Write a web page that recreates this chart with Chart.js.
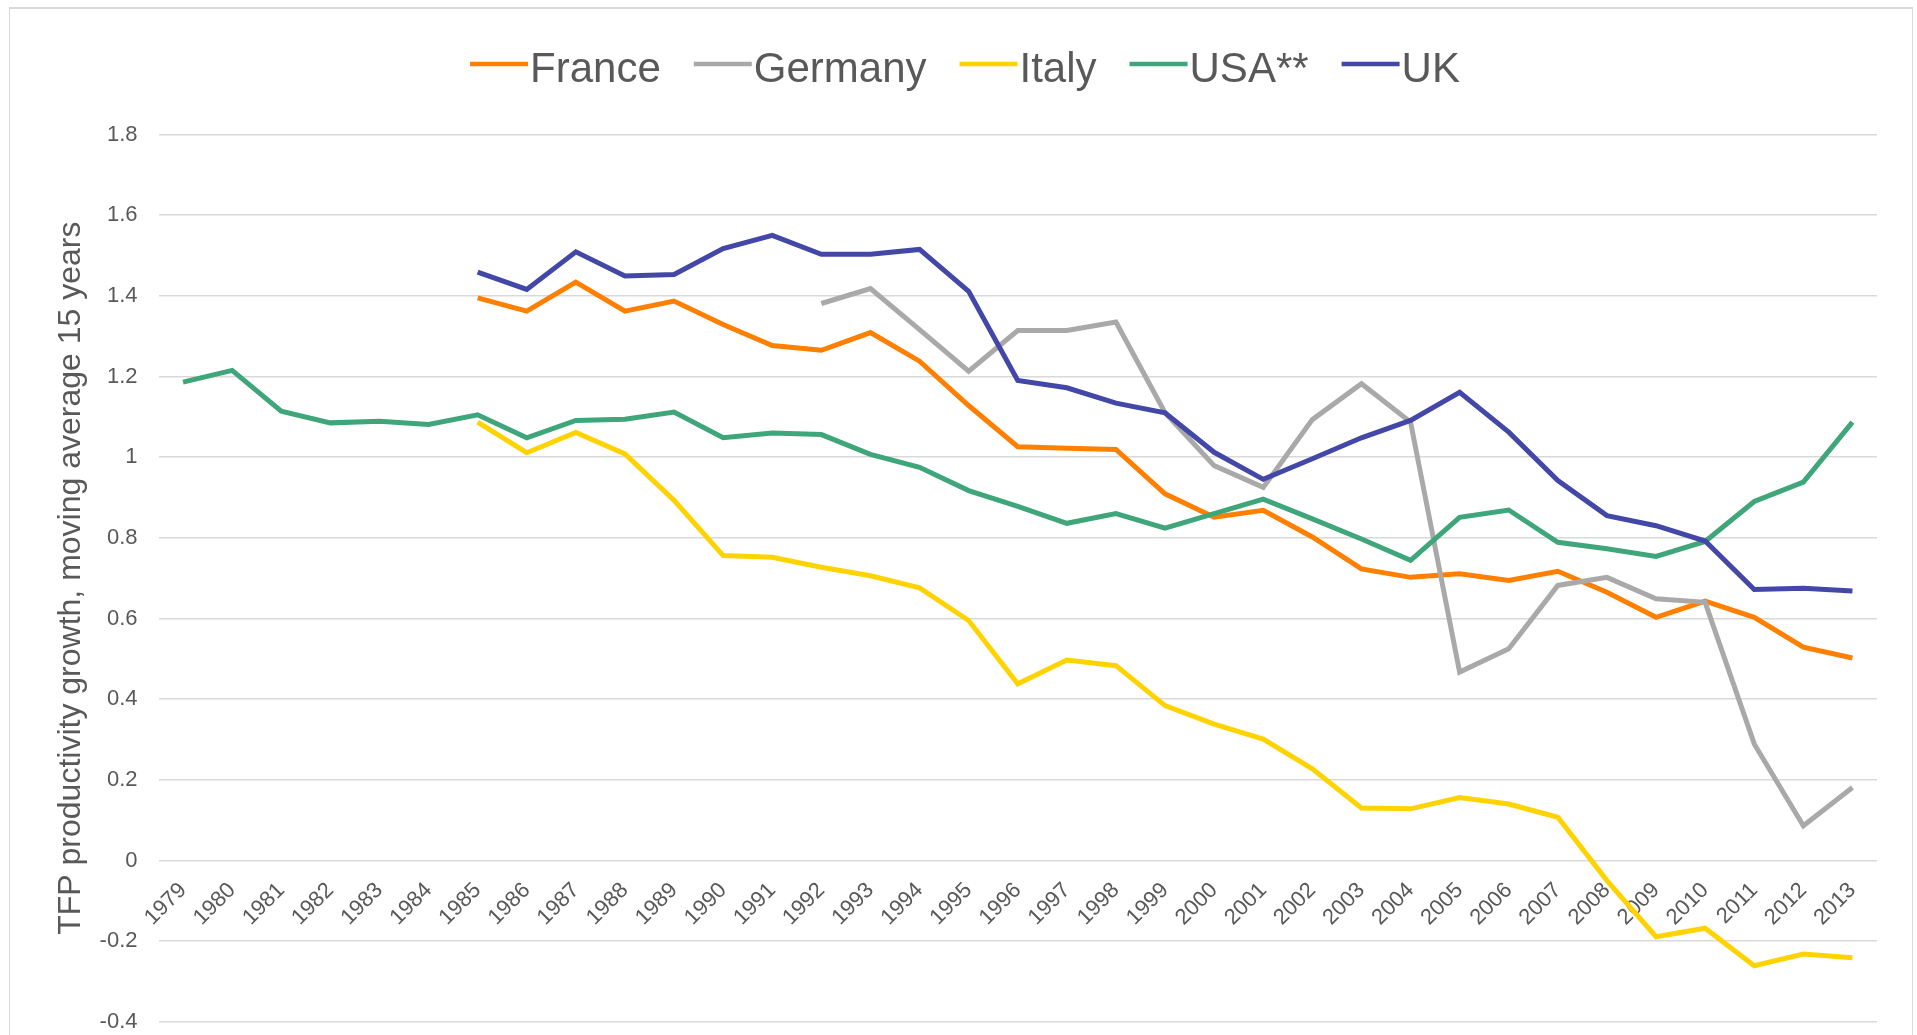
<!DOCTYPE html>
<html>
<head>
<meta charset="utf-8">
<title>TFP productivity growth</title>
<script src="https://cdn.jsdelivr.net/npm/chart.js@4.4.1/dist/chart.umd.min.js"></script>
<style>
  html, body { margin: 0; padding: 0; background: #fff; overflow: hidden; }
  #wrap { position: relative; width: 1917px; height: 1035px; overflow: hidden; }
  #frame { position: absolute; left: 9px; top: 7px; width: 1902px; height: 1100px; border: 1px solid #d9d9d9; border-top-width: 2px; pointer-events: none; }
  canvas { position: absolute; left: 0; top: 0; }
</style>
</head>
<body>
<div id="wrap">
  <!-- a bit taller than the window: the plot runs on below the visible edge, as in the original -->
  <canvas id="tfpChart" width="1917" height="1056"></canvas>
  <div id="frame"></div>
</div>
<script>
// Years on the category axis
const years = ['1979', '1980', '1981', '1982', '1983', '1984', '1985', '1986', '1987', '1988',
  '1989', '1990', '1991', '1992', '1993', '1994', '1995', '1996', '1997', '1998',
  '1999', '2000', '2001', '2002', '2003', '2004', '2005', '2006', '2007', '2008',
  '2009', '2010', '2011', '2012', '2013'];

// TFP growth, 15 year moving average
const france = [null, null, null, null, null, null,
  1.395, 1.362, 1.434, 1.362, 1.387, 1.329, 1.277, 1.265, 1.309, 1.238,
  1.128, 1.026, 1.022, 1.019, 0.909, 0.851, 0.868, 0.802, 0.723, 0.702,
  0.711, 0.694, 0.717, 0.665, 0.603, 0.643, 0.603, 0.529, 0.502];
const germany = [null, null, null, null, null, null, null, null, null, null, null, null, null,
  1.381, 1.418, 1.316, 1.213, 1.314, 1.314, 1.335, 1.11, 0.979, 0.925,
  1.093, 1.182, 1.087, 0.467, 0.525, 0.682, 0.702, 0.649, 0.640, 0.289, 0.086, 0.181];
const italy = [null, null, null, null, null, null,
  1.087, 1.011, 1.061, 1.008, 0.893, 0.756, 0.752, 0.727, 0.706, 0.676,
  0.595, 0.438, 0.497, 0.483, 0.384, 0.338, 0.301, 0.227, 0.130, 0.128,
  0.156, 0.140, 0.107, -0.050, -0.189, -0.168, -0.261, -0.232, -0.241];
const usa = [1.186, 1.215, 1.114, 1.085, 1.089, 1.081, 1.105, 1.048, 1.091, 1.094,
  1.112, 1.048, 1.060, 1.056, 1.007, 0.975, 0.917, 0.878, 0.836, 0.860,
  0.824, 0.860, 0.896, 0.847, 0.797, 0.744, 0.851, 0.869, 0.789, 0.773,
  0.754, 0.791, 0.890, 0.938, 1.087];
const uk = [null, null, null, null, null, null,
  1.459, 1.416, 1.509, 1.449, 1.453, 1.517, 1.550, 1.503, 1.503, 1.515,
  1.411, 1.190, 1.172, 1.134, 1.110, 1.012, 0.945, 0.996, 1.048, 1.091,
  1.161, 1.062, 0.942, 0.855, 0.830, 0.792, 0.672, 0.675, 0.668];

const yMin = -0.4;
const yMax = 1.8;
const yStep = 0.2;

const textGrey = '#595959';
const fontFamily = '"Liberation Sans", Arial, sans-serif';

// Excel style legend: line sample glued to the text
const lineLegend = {
  id: 'lineLegend',
  afterDraw(chart, args, opts) {
    const ctx = chart.ctx;
    const items = chart.data.datasets.slice().reverse();
    ctx.save();
    ctx.font = opts.size + 'px ' + fontFamily;
    const widths = items.map(ds => opts.lineLength + ctx.measureText(ds.label).width);
    const total = widths.reduce((a, b) => a + b, 0) + opts.gap * (items.length - 1);
    let x = opts.centerX - total / 2;
    items.forEach((ds, i) => {
      ctx.strokeStyle = ds.borderColor;
      ctx.lineWidth = 4.5;
      ctx.beginPath();
      ctx.moveTo(x, opts.lineY);
      ctx.lineTo(x + opts.lineLength, opts.lineY);
      ctx.stroke();
      ctx.fillStyle = textGrey;
      ctx.textAlign = 'left';
      ctx.textBaseline = 'alphabetic';
      ctx.fillText(ds.label, x + opts.lineLength + 2, opts.baseline);
      x += widths[i] + opts.gap;
    });
    ctx.restore();
  }
};

function serie(label, data, color) {
  return {
    label: label,
    data: data,
    borderColor: color,
    backgroundColor: color,
    borderWidth: 5,
    pointRadius: 0,
    pointHoverRadius: 0,
    tension: 0,
    spanGaps: false
  };
}

function cargarGrafica() {
  const ctx = document.getElementById('tfpChart');
  new Chart(ctx, {
    type: 'line',
    data: {
      labels: years,
      // reversed so UK is drawn on top (Excel order), legend flips it back
      datasets: [
        serie('UK', uk, '#4348a8'),
        serie('USA**', usa, '#3ea67a'),
        serie('Italy', italy, '#ffd300'),
        serie('Germany', germany, '#a9a9a9'),
        serie('France', france, '#ff8000')
      ]
    },
    options: {
      responsive: false,
      animation: false,
      layout: { padding: { top: 134.5, right: 40, bottom: 14, left: 0 } },
      plugins: {
        tooltip: { enabled: false },
        legend: { display: false },
        lineLegend: { size: 42, lineLength: 58, gap: 35, centerX: 964, lineY: 64, baseline: 82 }
      },
      scales: {
        x: {
          position: { y: 0 },
          offset: true,
          grid: { display: false, drawTicks: false },
          border: { display: false },
          ticks: {
            color: textGrey,
            font: { family: fontFamily, size: 22 },
            minRotation: 45,
            maxRotation: 45,
            autoSkip: false,
            padding: 17
          }
        },
        y: {
          min: yMin,
          max: yMax,
          grid: { color: '#d9d9d9', lineWidth: 1.5, drawTicks: false },
          border: { display: false },
          ticks: {
            stepSize: yStep,
            color: textGrey,
            font: { family: fontFamily, size: 22 },
            padding: 21,
            callback: v => String(parseFloat(Number(v).toFixed(1)))
          },
          title: {
            display: true,
            text: 'TFP productivity growth, moving average 15 years',
            color: textGrey,
            font: { family: fontFamily, size: 32 },
            padding: { top: 52, bottom: 0 }
          },
          afterFit(scale) { scale.width = 158.5; }
        }
      }
    },
    plugins: [lineLegend]
  });
}

document.addEventListener('DOMContentLoaded', () => {
  cargarGrafica();
});
</script>
</body>
</html>
